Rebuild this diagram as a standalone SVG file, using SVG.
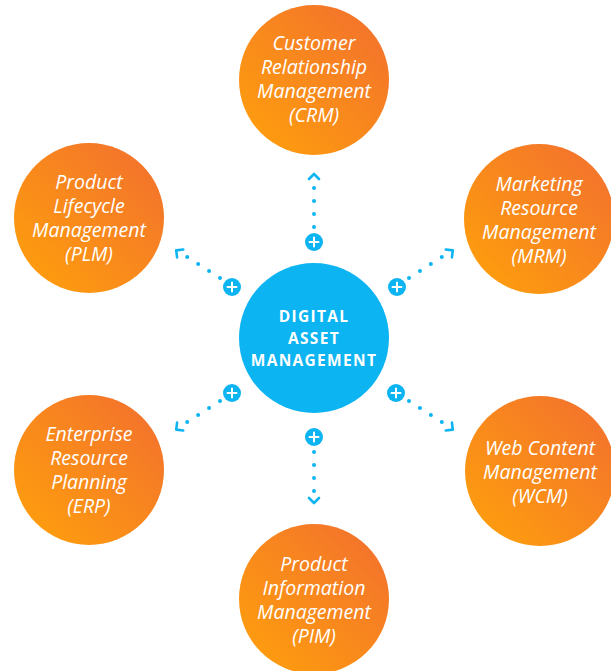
<svg xmlns="http://www.w3.org/2000/svg" width="611" height="671" viewBox="0 0 611 671">
<defs>
<linearGradient id="og" x1="0" y1="1" x2="1" y2="0">
<stop offset="0" stop-color="#FFA20A"/>
<stop offset="1" stop-color="#F26E30"/>
</linearGradient>
<path id="chev" d="M-4,-5 L1,0 L-4,5" fill="none" stroke="#0DB4F2" stroke-width="2.6" stroke-linecap="round" stroke-linejoin="round"/>
<g id="plus">
<circle r="9" fill="#0DB4F2"/>
<path d="M-4.5,0 H4.5 M0,-4.5 V4.5" stroke="#fff" stroke-width="2" stroke-linecap="round"/>
</g>
</defs>
<style>
.orb{fill:url(#og)}
.lbl{font-family:"Open Sans","Liberation Sans",sans-serif;font-style:italic;font-size:19.5px;fill:#fff;text-anchor:middle}
.dam{font-family:"Open Sans","Liberation Sans",sans-serif;font-weight:700;font-size:15.5px;letter-spacing:1.3px;fill:#fff;text-anchor:middle}
.dots{fill:none;stroke:#0DB4F2;stroke-width:4;stroke-linecap:round;stroke-dasharray:0 13}
</style>
<rect width="611" height="671" fill="#fff"/>

<g id="connectors">
<path class="dots" d="M314,227 L314,187"/>
<path class="dots" d="M314,452 L314,492"/>
<path class="dots" d="M409,278 L444,255.5"/>
<path class="dots" d="M220,278 L185,255.5"/>
<path class="dots" d="M409,401 L444,423.5"/>
<path class="dots" d="M220,401 L185,423.5"/>
<use href="#chev" transform="translate(314,175) rotate(-90)"/>
<use href="#chev" transform="translate(314,502) rotate(90)"/>
<use href="#chev" transform="translate(452,251) rotate(-38)"/>
<use href="#chev" transform="translate(177,251) rotate(-142)"/>
<use href="#chev" transform="translate(452,429) rotate(38)"/>
<use href="#chev" transform="translate(177,429) rotate(142)"/>
<use href="#plus" x="314" y="242"/>
<use href="#plus" x="314" y="437"/>
<use href="#plus" x="232" y="287"/>
<use href="#plus" x="397" y="287"/>
<use href="#plus" x="232" y="393"/>
<use href="#plus" x="396" y="393"/>
</g>

<g id="dam">
<circle cx="314" cy="338" r="75" fill="#0DB4F2"/>
<text class="dam" x="314" y="322">DIGITAL</text>
<text class="dam" x="314" y="344">ASSET</text>
<text class="dam" x="314" y="366">MANAGEMENT</text>
</g>

<g id="crm">
<circle class="orb" cx="314" cy="80" r="75"/>
<text class="lbl" x="314" y="50">Customer</text>
<text class="lbl" x="314" y="74">Relationship</text>
<text class="lbl" x="314" y="98">Management</text>
<text class="lbl" x="314" y="122">(CRM)</text>
</g>

<g id="plm">
<circle class="orb" cx="89" cy="218" r="75"/>
<text class="lbl" x="89" y="189">Product</text>
<text class="lbl" x="89" y="213">Lifecycle</text>
<text class="lbl" x="89" y="237">Management</text>
<text class="lbl" x="89" y="261">(PLM)</text>
</g>

<g id="mrm">
<circle class="orb" cx="539" cy="219" r="75"/>
<text class="lbl" x="539" y="191">Marketing</text>
<text class="lbl" x="539" y="215">Resource</text>
<text class="lbl" x="539" y="239">Management</text>
<text class="lbl" x="539" y="263">(MRM)</text>
</g>

<g id="erp">
<circle class="orb" cx="89" cy="470" r="75"/>
<text class="lbl" x="89" y="441">Enterprise</text>
<text class="lbl" x="89" y="465">Resource</text>
<text class="lbl" x="89" y="489">Planning</text>
<text class="lbl" x="89" y="513">(ERP)</text>
</g>

<g id="wcm">
<circle class="orb" cx="540" cy="471" r="75"/>
<text class="lbl" x="540" y="455">Web Content</text>
<text class="lbl" x="540" y="479">Management</text>
<text class="lbl" x="540" y="503">(WCM)</text>
</g>

<g id="pim">
<circle class="orb" cx="314" cy="599" r="75"/>
<text class="lbl" x="314" y="571">Product</text>
<text class="lbl" x="314" y="595">Information</text>
<text class="lbl" x="314" y="619">Management</text>
<text class="lbl" x="314" y="643">(PIM)</text>
</g>
</svg>
